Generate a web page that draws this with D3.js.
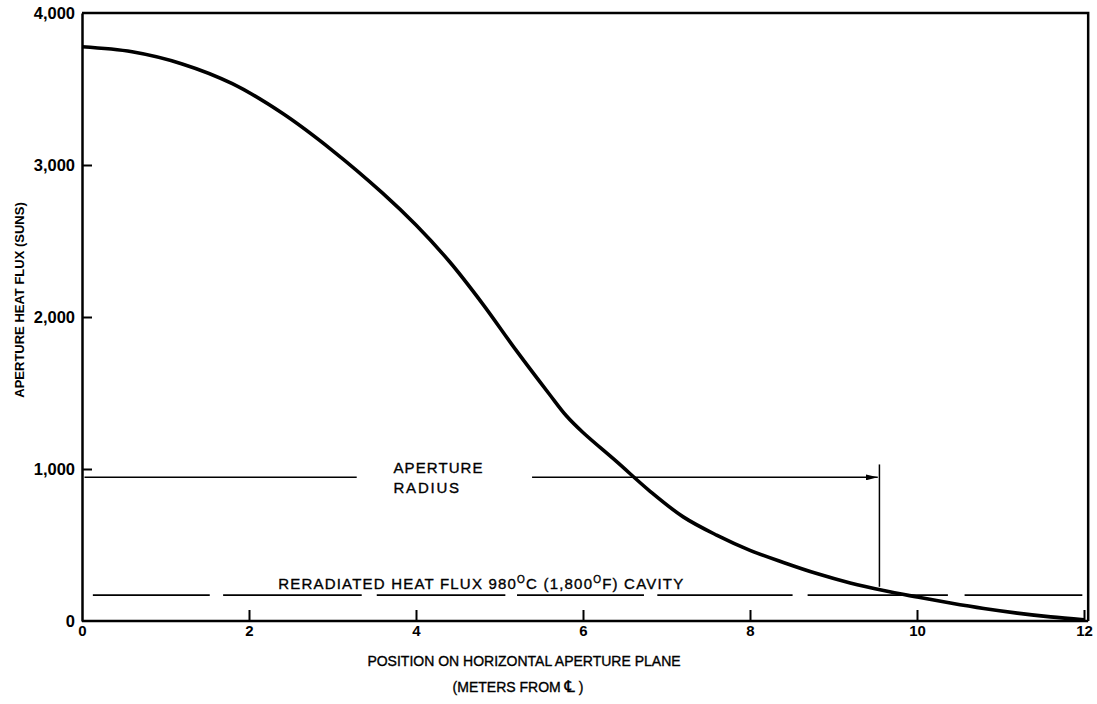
<!DOCTYPE html>
<html>
<head>
<meta charset="utf-8">
<script src="https://cdn.jsdelivr.net/npm/d3@7"></script>
<style>
  body { margin: 0; background: #fff; }
  text { font-family: "Liberation Sans", Arial, Helvetica, sans-serif; fill: #000; }
  .label { stroke: #000; stroke-width: 0.35px; }
</style>
</head>
<body>
<svg id="chart" width="1097" height="704"></svg>
<script>
// Aperture heat flux profile across the horizontal aperture plane
const positionM = [0, 0.6, 1.2, 1.8, 2.4, 3.0, 3.6, 4.0, 4.4, 4.8, 5.2, 5.6, 5.8, 6.0, 6.4, 6.8, 7.2, 7.6, 8.0, 8.4, 8.8, 9.2, 9.6, 10.0, 10.4, 10.8, 11.2, 11.6, 12.0];
const fluxSuns  = [3778, 3745, 3665, 3535, 3340, 3095, 2815, 2605, 2365, 2085, 1780, 1490, 1350, 1240, 1050, 855, 685, 565, 465, 385, 312, 250, 200, 158, 118, 82, 52, 27, 8];

// Tick values
const xTicks = [0, 2, 4, 6, 8, 10, 12];
const yTicks = [0, 1000, 2000, 3000, 4000];

// Reradiated heat flux of a 980 °C cavity (dashed reference level)
const reradiatedFlux = 170;
const reradiatedDashes = [[0.13, 1.53], [1.69, 3.35], [3.53, 5.07], [5.21, 6.73], [6.89, 8.51], [8.69, 10.37], [10.57, 11.98]];

// Aperture radius marker
const apertureRadius = 9.55;
const apertureArrowFlux = 945;
const apertureLineSegments = [[0.03, 3.29], [5.39, 9.53]];
const apertureTickFlux = [1030, 225];

const xMax = 12, xFrame = 12.05, yMax = 4000;

const svg = d3.select("#chart");
const x = d3.scaleLinear().domain([0, xMax]).range([82, 1084]);
const y = d3.scaleLinear().domain([0, yMax]).range([621, 13]);

// Frame: top and right edges
svg.append("path")
  .attr("d", `M${x(0)},${y(yMax)}H${x(xFrame)}V${y(0)}`)
  .attr("fill", "none").attr("stroke", "#000").attr("stroke-width", 2.5);

// X axis, ticks pointing up into the plot
const xAxis = svg.append("g")
  .attr("transform", `translate(0,${y(0)})`)
  .call(d3.axisBottom(x).tickValues(xTicks).tickSizeInner(-11).tickSizeOuter(0).tickPadding(4)
    .tickFormat(d3.format("d")));
xAxis.select(".domain").attr("stroke-width", 2.5).attr("d", `M${x(0)},0H${x(xFrame)}`);
xAxis.selectAll(".tick line").attr("stroke-width", 2).filter(d => d === 0).remove();
xAxis.selectAll(".tick text").attr("font-size", 15).attr("font-weight", "bold").attr("fill", "#000");

// Y axis, ticks pointing right into the plot
const yAxis = svg.append("g")
  .attr("transform", `translate(${x(0)},0)`)
  .call(d3.axisLeft(y).tickValues(yTicks).tickSizeInner(-10).tickSizeOuter(0).tickPadding(7)
    .tickFormat(d3.format(",")));
yAxis.select(".domain").attr("stroke-width", 2.5);
yAxis.selectAll(".tick line").attr("stroke-width", 2).filter(d => d === 0 || d === yMax).remove();
yAxis.selectAll(".tick text").attr("font-size", 16.5).attr("font-weight", "bold").attr("fill", "#000");

// Reradiated heat flux level
svg.append("g").selectAll("line").data(reradiatedDashes).join("line")
  .attr("x1", d => x(d[0])).attr("x2", d => x(d[1]))
  .attr("y1", y(reradiatedFlux)).attr("y2", y(reradiatedFlux))
  .attr("stroke", "#000").attr("stroke-width", 1.8);

const rerad = svg.append("text").attr("class", "label")
  .attr("x", x(2.35)).attr("y", y(reradiatedFlux) - 6)
  .attr("font-size", 15).attr("letter-spacing", 1.2);
rerad.append("tspan").text("RERADIATED HEAT FLUX 980");
rerad.append("tspan").attr("dy", -6).attr("font-size", 10).text("O");
rerad.append("tspan").attr("dy", 6).text("C (1,800");
rerad.append("tspan").attr("dy", -6).attr("font-size", 10).text("O");
rerad.append("tspan").attr("dy", 6).text("F) CAVITY");

// Aperture radius arrow
svg.append("defs").append("marker")
  .attr("id", "arrowhead").attr("viewBox", "0 0 12 6").attr("refX", 12).attr("refY", 3)
  .attr("markerWidth", 12).attr("markerHeight", 6).attr("markerUnits", "userSpaceOnUse")
  .attr("orient", "auto")
  .append("path").attr("d", "M0,0L12,3L0,6Z").attr("fill", "#000");

svg.append("g").selectAll("line").data(apertureLineSegments).join("line")
  .attr("x1", d => x(d[0])).attr("x2", d => x(d[1]))
  .attr("y1", y(apertureArrowFlux)).attr("y2", y(apertureArrowFlux))
  .attr("stroke", "#000").attr("stroke-width", 1.5)
  .attr("marker-end", (d, i) => i === 1 ? "url(#arrowhead)" : null);

svg.append("line")
  .attr("x1", x(apertureRadius)).attr("x2", x(apertureRadius))
  .attr("y1", y(apertureTickFlux[0])).attr("y2", y(apertureTickFlux[1]))
  .attr("stroke", "#000").attr("stroke-width", 1.5);

svg.append("text").attr("class", "label").attr("x", x(3.73)).attr("y", y(apertureArrowFlux) - 4)
  .attr("font-size", 15).attr("letter-spacing", 1.1).text("APERTURE");
svg.append("text").attr("class", "label").attr("x", x(3.73)).attr("y", y(apertureArrowFlux) + 16)
  .attr("font-size", 15).attr("letter-spacing", 1.8).text("RADIUS");

// Heat flux curve
const line = d3.line().x((d, i) => x(positionM[i])).y(d => y(d)).curve(d3.curveCatmullRom.alpha(0.5));
svg.append("path").datum(fluxSuns)
  .attr("d", line)
  .attr("fill", "none").attr("stroke", "#000").attr("stroke-width", 3.6)
  .attr("stroke-linejoin", "round");

// Axis titles
svg.append("text")
  .attr("transform", `translate(24,300) rotate(-90)`)
  .attr("text-anchor", "middle").attr("font-size", 13).attr("font-weight", "bold")
  .text("APERTURE HEAT FLUX (SUNS)");

svg.append("text").attr("class", "label").attr("x", 524).attr("y", 666)
  .attr("text-anchor", "middle").attr("font-size", 14)
  .text("POSITION ON HORIZONTAL APERTURE PLANE");

const sub = svg.append("text").attr("class", "label").attr("x", 518).attr("y", 692)
  .attr("text-anchor", "middle").attr("font-size", 14);
sub.append("tspan").text("(METERS FROM ");
sub.append("tspan").attr("font-family", "DejaVu Sans").attr("font-size", 16).text("\u2104");
sub.append("tspan").text(" )");
</script>
</body>
</html>
